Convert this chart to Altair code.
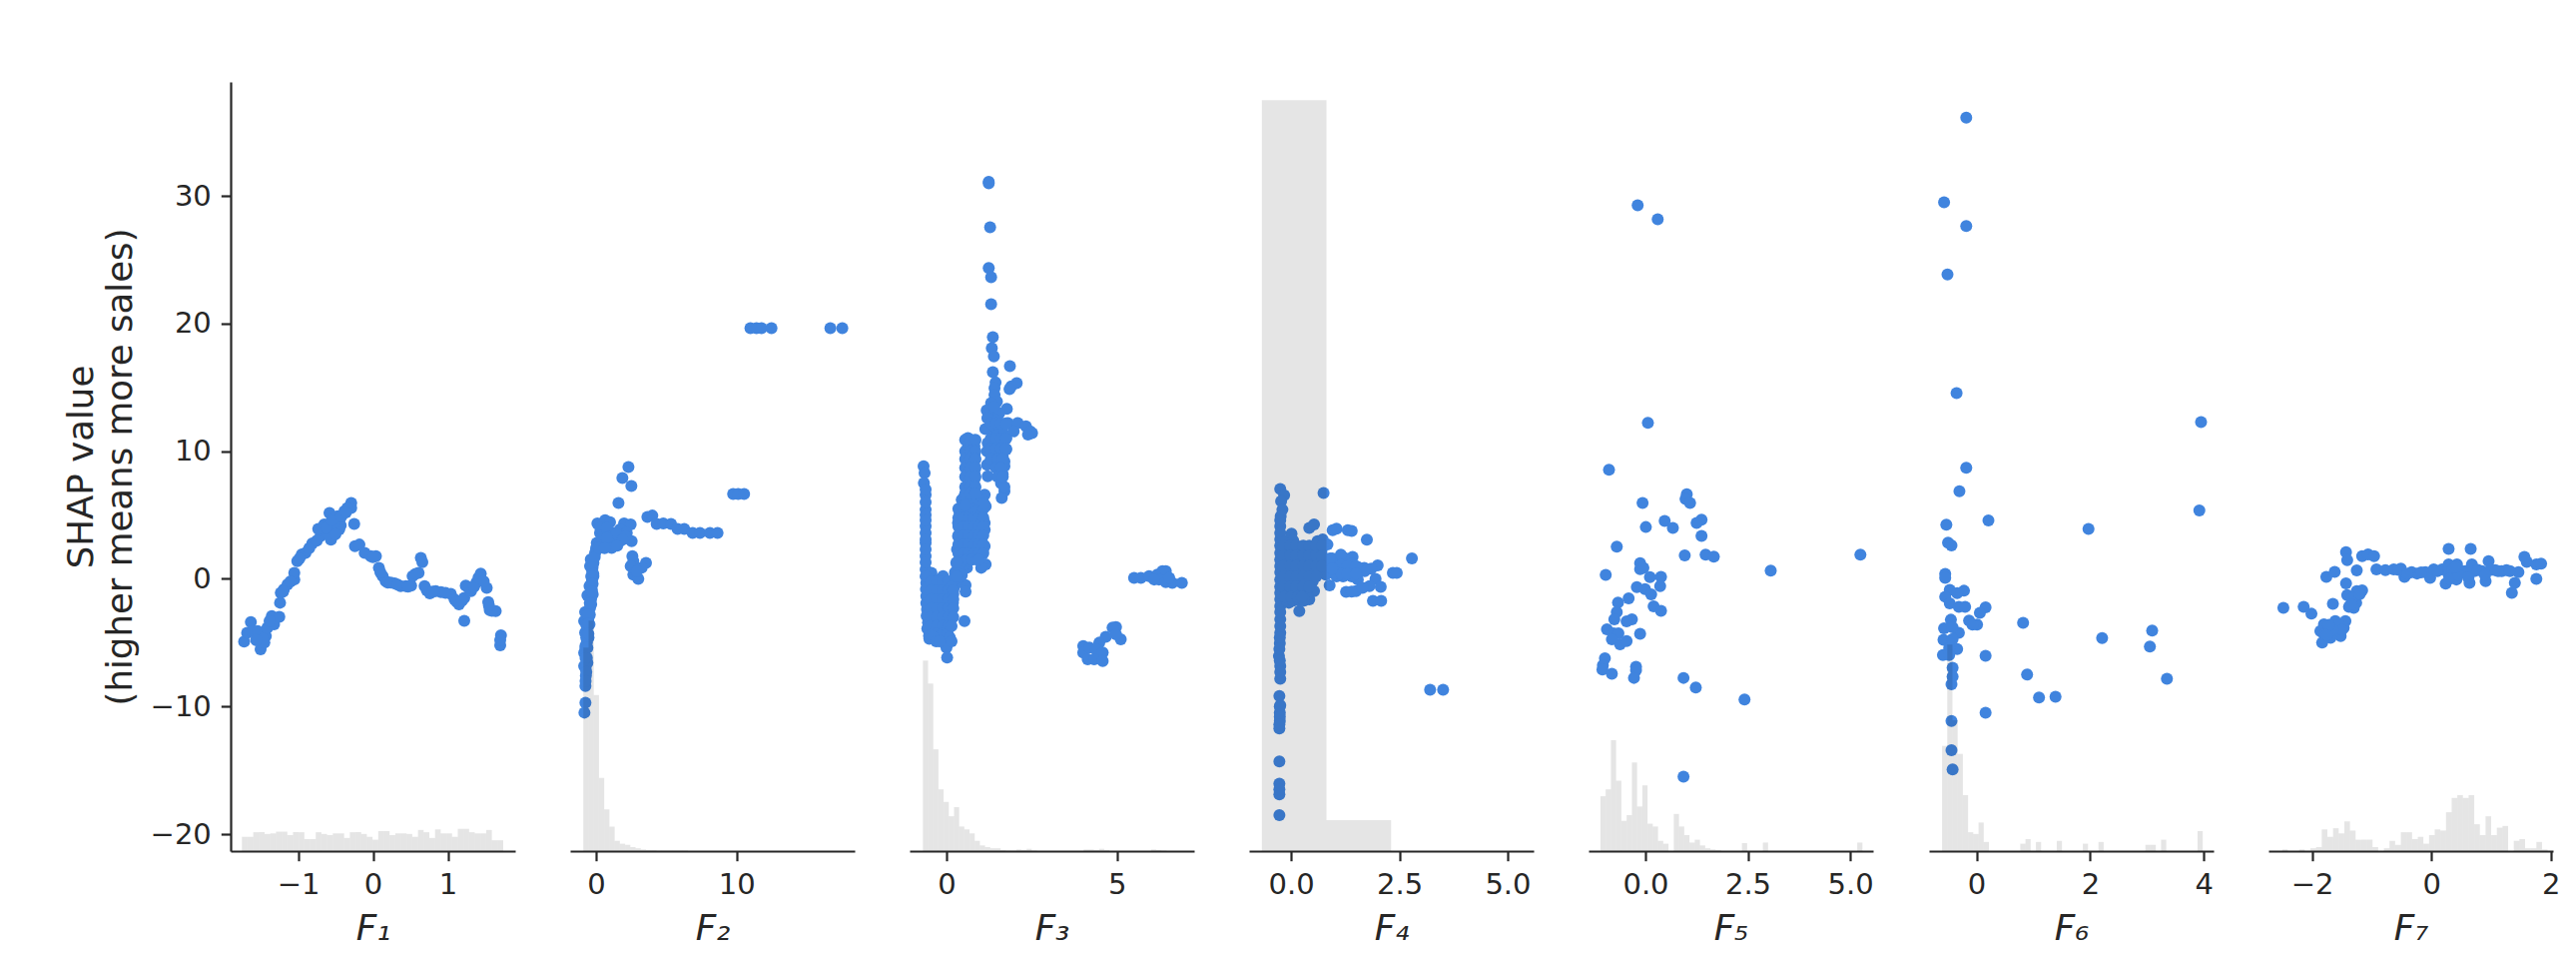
import altair as alt
import pandas as pd

BLUE = "#4084de"
INK = "#262626"

F1_x = [-1.72,-1.68,-1.63,-1.61,-1.54,-1.50,-1.45,-1.43,-1.41,-1.35,-1.32,-1.25,-1.24,-1.23,-1.19,-1.14,-1.05,-1.05,-1.01,-0.95,-0.90,-0.81,-0.70,-0.73,-0.65,-0.58,-0.56,-0.56,-0.47,-0.43,-0.45,-0.52,-0.47,-0.38,-0.29,-0.29,-0.34,-0.25,-0.24,-0.18,-0.11,-0.03,0.04,0.08,0.13,0.17,0.29,0.37,0.44,0.51,0.53,0.61,0.64,0.66,0.69,0.76,0.84,0.91,1.04,1.09,1.15,1.22,1.22,1.24,1.31,1.38,1.44,1.52,1.54,1.56,1.64,1.71,1.70,
        -1.47,-1.56,-1.38,-1.20,-1.10,-0.98,-0.85,-0.75,-0.60,-0.62,-0.55,-0.42,-0.36,-0.50,0.00,0.10,0.20,0.24,0.33,0.47,0.57,0.72,0.80,0.97,1.12,1.19,1.28,1.35,1.41,1.48,1.59,1.55,1.70]
F1_y = [-4.92,-4.22,-3.39,-4.09,-4.09,-5.52,-5.0,-4.48,-3.83,-2.92,-3.57,-2.97,-1.87,-1.09,-0.83,-0.44,-0.05,0.47,1.39,1.91,2.04,2.77,3.34,3.92,4.26,5.17,4.0,3.08,4.0,4.18,3.87,4.39,4.91,5.3,5.95,5.56,5.56,4.31,2.56,2.69,2.04,1.78,1.78,0.87,0.21,-0.18,-0.36,-0.57,-0.57,-0.52,0.21,0.47,1.65,1.31,-0.57,-1.14,-0.96,-1.03,-1.17,-1.61,-2.0,-1.48,-3.28,-0.52,-0.96,-0.31,0.42,-0.70,-1.82,-2.45,-2.52,-4.43,-5.21,
        -4.7,-4.8,-3.3,-1.0,-0.2,1.6,2.4,3.0,3.5,4.0,4.6,4.9,5.2,3.5,1.7,0.5,-0.3,-0.3,-0.45,-0.6,0.4,-0.9,-1.0,-1.1,-1.8,-1.7,-0.7,-0.6,0.1,-0.2,-2.5,-2.1,-4.8]

F2_x = [10.98,11.41,11.77,12.48,16.67,17.52,9.75,10.11,10.53,2.30,1.87,2.51,1.59,3.65,4.0,4.31,4.78,5.33,5.80,6.27,6.87,7.39,8.10,8.64,0.09,0.64,0.99,1.99,2.46,0.52,1.23,1.70,2.18,2.53,1.11,1.70,0.05,0.52,0.99,0.28,0.76,2.06,1.35,2.58,2.65,2.46,3.55,3.24,2.65,3.0,2.89,-0.07,-0.19,-0.28,-0.28,-0.31,-0.62,-0.36,-0.43,-0.78,-0.85,-0.54,-0.78,-0.66,-0.85,-0.66,-0.85,-0.73,-0.76,-0.76,-0.83,-0.43,-0.38,-0.19,-0.47,-0.24,-0.47,-0.54,-0.76,-0.62,
        0.0,-0.1,-0.25,-0.2,-0.35,-0.35,-0.25,-0.3,-0.35,-0.45,-0.45,-0.6,-0.7,-0.55,-0.7,-0.55,-0.75,-0.62,-0.75,-0.75,-0.7,-0.75,0.3,0.75,1.0,1.45,0.4,0.75,1.9,0.2,0.6,1.5]
F2_y = [19.65,19.65,19.65,19.65,19.65,19.65,6.66,6.66,6.66,8.77,7.91,7.28,5.95,4.86,4.96,4.31,4.34,4.31,3.92,3.92,3.6,3.6,3.6,3.6,4.34,4.6,4.44,4.34,4.26,3.87,3.6,3.87,3.6,2.95,2.43,2.95,2.82,3.08,2.95,3.6,2.69,3.34,3.21,1.78,1.39,1.0,1.26,0.87,0.34,0.0,0.6,2.04,1.26,0.6,-0.05,-0.83,-1.3,-1.61,-2.26,-2.6,-3.3,-3.05,-4.2,-5.0,-5.8,-6.18,-6.83,-7.6,-8.4,-9.7,-10.48,0.99,1.52,0.21,-0.57,-1.22,-3.57,-4.6,-5.26,-6.57,
        2.4,1.7,0.9,0.4,0.2,-0.4,-0.4,-1.0,-2.0,-1.9,-2.8,-2.8,-3.6,-3.5,-4.6,-4.3,-5.4,-5.4,-6.2,-7.0,-7.3,-8.0,4.0,4.0,3.3,3.5,3.2,3.2,3.1,2.4,2.4,2.6]

F3_x = [1.24,1.24,1.28,1.24,1.31,1.31,1.36,1.33,1.39,1.36,1.86,2.06,1.90,1.85,1.44,1.41,1.41,1.48,1.31,1.77,1.18,1.41,1.14,1.46,1.80,2.09,2.33,2.45,2.51,2.39,1.97,1.60,1.41,1.75,1.21,1.19,1.19,1.21,1.75,1.56,1.51,1.51,1.70,1.60,1.70,1.62,1.65,
        0.63,0.82,0.63,0.82,0.63,0.82,0.63,0.82,0.53,0.73,1.12,1.15,0.87,0.39,0.34,0.58,0.87,1.12,0.34,0.58,0.87,1.12,1.12,1.07,0.87,0.58,0.31,0.29,0.53,0.73,0.60,1.15,1.02,0.39,0.24,0.19,0.56,0.56,0.53,
        5.50,5.70,5.94,6.18,6.33,6.43,6.23,6.43,6.62,6.90,6.09,6.53,4.97,4.87,5.11,4.97,4.67,4.48,4.01,4.01,4.19,4.38,4.58,4.14,4.33,4.58,
        -0.67,-0.64,-0.66,-0.61,-0.61,-0.61,-0.61,-0.61,-0.61,-0.59,-0.59,-0.57,-0.54,-0.51,-0.44,-0.25,-0.10,-0.35,-0.10,0.09,0.19,-0.35,-0.10,0.09,-0.35,-0.10,0.09,-0.15,0.05,0.0,0.02,
        -0.61,-0.61,-0.61,-0.61,-0.61,-0.61,-0.61,-0.61,-0.61,-0.60,-0.59,-0.58,-0.56,
        -0.45,-0.28,-0.11,0.06,-0.45,-0.28,-0.11,0.06,-0.45,-0.28,-0.11,0.06,-0.45,-0.28,-0.11,0.06,-0.45,-0.28,-0.11,0.06,-0.45,-0.28,-0.11,0.06,-0.40,-0.28,-0.11,0.04,
        0.35,0.50,0.65,0.80,0.95,1.08,0.35,0.50,0.65,0.80,0.95,1.08,0.35,0.50,0.65,0.80,0.95,1.08,0.35,0.50,0.65,0.80,0.95,1.08,0.35,0.50,0.65,0.80,0.95,1.08,0.35,0.50,0.65,0.80,0.95,1.08,
        0.63,0.73,0.82,0.63,0.73,0.82,0.63,0.73,0.82,0.63,0.73,0.82,0.63,0.73,0.82,
        0.30,0.30,0.40,0.20,0.50,0.26,0.15,
        1.40,1.50,1.60,1.70,1.45,1.65,1.55,1.70,1.55,1.65,1.60,1.70,1.55,1.40,1.40,1.65,
        0.25,0.35,0.45,0.60,0.75,0.90,0.30,0.45,1.05,0.95,1.10,0.45,0.55,0.95,
        0.55,0.70,0.85,0.55,0.70,0.85,0.55,0.70,0.85,0.55,0.70,0.85,0.55,0.70,0.85,0.55,0.70,0.85,0.55,0.70,0.85,
        1.20,1.30,1.45,1.60,1.75,1.30,1.45,1.60,1.75,1.30,1.45,1.60,1.75,1.30,1.50,1.65,1.45,1.60,1.50,1.65,
        0.20,0.20,0.20,0.20,0.15,0.25,0.30,0.10,0.15,-0.50,-0.40,-0.30,-0.20]
F3_y = [31.12,30.99,27.55,24.37,23.64,21.53,18.94,18.08,17.43,16.2,16.67,15.34,15.08,14.87,15.39,14.95,14.43,13.9,13.78,13.33,13.2,12.99,11.74,12.47,12.21,12.21,11.95,11.56,11.43,11.3,11.56,11.69,11.69,11.04,10.65,10.0,8.95,8.04,10.13,10.65,9.86,9.08,8.82,7.91,6.87,6.34,9.6,
        11.04,10.86,9.86,9.73,8.82,8.82,7.78,7.78,6.47,6.73,6.6,5.69,5.69,5.17,4.39,4.65,4.65,4.39,3.34,3.6,3.6,3.86,2.56,2.17,2.56,2.56,2.3,1.26,1.52,2.3,0.87,1.13,0.87,0.21,-0.57,-1.88,-0.49,-1.0,-3.31,
        0.08,0.08,0.21,0.34,0.6,0.6,-0.05,-0.25,-0.31,-0.31,-0.05,0.08,-3.77,-3.82,-4.74,-4.35,-4.54,-5.0,-5.26,-5.78,-5.39,-5.52,-5.78,-6.3,-6.3,-6.44,
        8.82,8.3,7.52,6.6,5.43,4.13,2.82,1.78,0.74,-0.31,-1.35,-2.39,-3.43,-4.47,0.47,-0.05,0.21,-1.09,-1.09,-0.83,-0.31,-2.39,-2.39,-2.13,-3.69,-3.69,-3.17,-4.35,-4.61,-5.39,-6.17,
        7.0,6.0,5.0,4.6,3.6,3.1,2.3,1.3,0.2,-0.8,-1.9,-2.9,-3.9,
        -0.2,-0.2,-0.2,-0.2,-0.9,-0.9,-0.9,-0.9,-1.6,-1.6,-1.6,-1.6,-2.3,-2.3,-2.3,-2.3,-3.0,-3.0,-3.0,-3.0,-3.7,-3.7,-3.7,-3.7,-4.3,-4.3,-4.3,-4.3,
        5.5,5.5,5.5,5.5,5.5,5.5,4.8,4.8,4.8,4.8,4.8,4.8,4.1,4.1,4.1,4.1,4.1,4.1,3.4,3.4,3.4,3.4,3.4,3.4,2.7,2.7,2.7,2.7,2.7,2.7,2.0,2.0,2.0,2.0,2.0,2.0,
        10.4,10.4,10.4,9.3,9.3,9.3,8.3,8.3,8.3,7.3,7.3,7.3,6.3,6.3,6.3,
        0.6,-0.2,0.5,-1.2,1.0,0.0,-0.6,
        12.0,11.3,10.8,11.3,10.2,10.0,9.4,9.2,8.5,8.2,7.5,7.2,13.0,13.5,12.5,11.9,
        0.5,0.9,1.4,1.5,1.5,1.5,1.3,0.3,6.2,6.2,5.9,6.2,5.8,1.5,
        10.9,10.9,10.9,10.0,10.0,10.0,9.4,9.4,9.4,8.7,8.7,8.7,8.0,8.0,8.0,7.2,7.2,7.2,6.7,6.7,6.7,
        12.6,12.2,12.2,12.2,12.2,11.0,11.0,11.0,11.0,10.2,10.2,10.2,10.2,9.4,9.4,9.4,8.7,8.7,8.0,8.0,
        -0.9,-1.6,-2.3,-3.0,-3.7,0.2,0.2,-4.6,-4.9,-4.7,-4.5,-4.9,-4.9]

F4_x = [-0.25,-0.16,-0.23,-0.20,-0.24,-0.25,-0.25,-0.25,-0.25,-0.25,-0.25,-0.25,-0.25,-0.25,-0.26,-0.28,-0.25,-0.25,-0.27,-0.25,-0.26,-0.26,-0.27,-0.27,-0.27,-0.27,-0.27,
        0.01,-0.01,0.03,0.19,0.26,0.03,0.34,0.53,0.42,0.19,-0.05,0.19,0.75,0.42,0.53,0.36,0.61,0.73,0.84,0.57,0.69,0.49,0.80,0.89,0.96,1.05,1.31,1.40,1.75,2.79,2.0,2.35,2.44,1.95,2.07,1.69,1.42,1.23,1.04,1.27,1.0,1.50,1.54,1.81,1.50,1.27,1.89,2.08,1.35,3.21,3.51,
        -0.25,-0.25,-0.25,-0.25,-0.25,-0.25,-0.25,-0.25,-0.25,-0.26,-0.27,-0.26,-0.25,-0.26,-0.26,-0.27,-0.27,
        -0.10,0.05,-0.10,0.05,0.20,0.40,0.55,0.70,-0.10,0.05,0.20,0.35,0.50,0.65,0.80,-0.10,0.05,0.20,0.35,0.50,0.65,0.80,1.00,-0.10,0.05,0.20,0.35,0.50,-0.10,0.05,0.20,0.35,-0.10,0.05,0.20,0.30,
        1.10,1.25,1.40,1.55,1.70,1.10,1.20,1.40,1.05,1.30,1.45,0.95,1.85,1.65,1.40,1.15,
        -0.18,-0.02,0.12,0.28,0.42,0.58,0.72,-0.18,-0.02,0.12,0.28,0.42,0.58,0.72,-0.18,-0.02,0.12,0.28,0.42,0.58,0.72,-0.18,-0.02,0.12,0.28,0.42,0.58,-0.18,-0.02,0.12,0.28,0.42,-0.15,0.0,0.15,0.25,
        1.00,1.15,1.30,1.50,1.00,1.15,1.30,1.50,0.90,0.95]
F4_y = [7.05,6.55,6.08,5.43,4.91,4.13,3.09,2.04,1.0,-0.05,-1.09,-2.13,-3.17,-4.22,-5.05,-6.05,-6.83,-7.82,-9.18,-9.9,-10.48,-11.13,-11.73,-14.31,-16.04,-16.88,-18.52,
        3.55,2.82,2.04,1.52,0.74,-0.05,-0.3,-0.96,-1.61,-2.53,-1.87,-1.09,6.73,3.99,4.26,2.43,2.95,3.09,2.69,1.77,1.0,0.47,0.34,-0.51,3.81,3.94,3.81,3.76,3.08,1.6,1.05,0.47,0.47,0.0,-0.62,0.87,1.73,1.65,1.52,1.0,0.73,0.47,-0.05,-0.57,-0.96,-1.01,-1.72,-1.72,0.47,-8.68,-8.68,
        4.6,3.6,2.6,1.5,0.5,-0.6,-1.6,-2.6,-3.7,-4.6,-5.5,-6.4,-7.3,-10.0,-10.8,-11.4,-16.5,
        3.0,3.0,2.2,2.2,2.2,2.2,2.2,2.2,1.4,1.4,1.4,1.4,1.4,1.4,1.4,0.6,0.6,0.6,0.6,0.6,0.6,0.6,0.6,-0.2,-0.2,-0.2,-0.2,-0.2,-1.0,-1.0,-1.0,-1.0,-1.7,-1.7,-1.7,-1.7,
        1.2,1.3,1.2,0.9,0.6,0.6,0.2,0.2,0.2,0.7,0.6,1.6,0.8,-0.7,-1.0,1.9,
        2.6,2.6,2.6,2.6,2.6,2.6,2.6,1.8,1.8,1.8,1.8,1.8,1.8,1.8,1.0,1.0,1.0,1.0,1.0,1.0,1.0,0.2,0.2,0.2,0.2,0.2,0.2,-0.6,-0.6,-0.6,-0.6,-0.6,-1.4,-1.4,-1.4,-1.4,
        1.0,1.1,1.0,1.0,0.4,0.4,0.4,0.4,1.6,0.8]

F5_x = [-0.19,0.30,0.06,-0.89,-0.07,1.01,0.98,1.09,0.47,0.67,0.01,1.37,1.25,1.37,-0.70,0.96,1.47,1.67,5.25,3.06,-0.97,-0.13,-0.13,-0.05,0.11,0.38,0.36,-0.21,-0.01,0.14,0.20,0.38,-0.41,-0.67,-0.70,-0.33,-0.46,-0.76,-0.94,-0.78,-0.66,-0.62,-0.46,-0.13,-0.82,-0.99,-1.04,-1.05,-0.82,-0.23,-0.23,-0.28,0.93,1.23,2.42,0.93]
F5_y = [29.27,28.17,12.23,8.55,5.95,6.64,6.26,5.95,4.53,4.0,4.06,4.63,4.38,3.37,2.52,1.83,1.89,1.74,1.89,0.64,0.32,1.23,0.76,0.86,0.13,0.16,-0.56,-0.65,-0.81,-1.22,-2.16,-2.51,-1.53,-1.85,-2.6,-3.17,-3.33,-3.17,-3.95,-4.27,-4.27,-5.12,-4.87,-4.3,-4.74,-6.22,-6.78,-7.1,-7.44,-6.88,-7.16,-7.76,-7.76,-8.51,-9.46,-15.49]

F6_x = [-0.18,-0.57,-0.18,-0.51,-0.35,3.95,-0.18,-0.30,-0.53,0.21,1.97,3.92,-0.50,-0.44,-0.55,-0.55,-0.47,-0.55,-0.22,-0.34,-0.47,-0.31,-0.20,0.16,0.06,-0.13,0.01,-0.07,0.82,-0.45,-0.57,-0.31,-0.42,-0.58,-0.34,-0.48,-0.42,-0.59,-0.48,0.16,2.21,3.09,3.05,3.35,0.89,1.10,1.39,0.16,-0.42,-0.42,-0.44,-0.44,-0.44,-0.42]
F6_y = [36.15,29.5,27.64,23.86,14.56,12.29,8.7,6.87,4.24,4.57,3.92,5.36,2.84,2.63,0.4,0.08,-0.86,-1.4,-0.93,-1.11,-1.91,-2.19,-2.19,-2.23,-2.66,-3.27,-3.59,-3.59,-3.45,-3.2,-3.88,-4.23,-3.8,-4.78,-5.5,-5.43,-4.71,-5.96,-5.96,-6.03,-4.63,-4.06,-5.31,-7.83,-7.5,-9.3,-9.23,-10.49,-6.97,-7.65,-8.26,-11.13,-13.43,-14.93]

F7_x = [-2.48,-2.14,-2.01,-1.65,-1.76,-1.62,-1.43,-1.41,-1.25,-1.16,-1.06,-0.96,-0.92,-1.43,-1.41,-1.25,-1.16,-1.26,-1.38,-1.30,-1.80,-1.86,-1.61,-1.44,-1.47,-1.52,-1.69,-1.83,-1.61,-1.80,-0.77,-0.63,-0.51,-0.45,-0.33,-0.24,-0.10,-0.02,0.04,0.18,0.24,0.29,0.29,0.43,0.42,0.66,0.68,0.64,0.57,0.29,0.85,0.91,0.96,1.07,1.18,1.26,1.46,1.40,1.35,1.56,1.60,1.76,1.84,1.76,
        -0.55,-0.40,-0.17,0.10,0.35,0.50,0.72,0.78,1.00,1.12,1.32,0.30,0.45,0.62,0.90,0.40,-1.70,-1.55,-1.50,-1.65,-1.72,-1.75,-1.33,-1.35,-1.20]
F7_y = [-2.27,-2.19,-2.73,-1.95,0.16,0.55,2.09,1.47,0.66,1.78,1.91,1.78,0.74,-0.36,-1.27,-0.96,-0.91,-1.87,-2.19,-2.27,-3.57,-4.09,-3.31,-3.31,-3.83,-4.48,-4.61,-5.0,-3.83,-4.35,0.68,0.74,0.81,0.16,0.52,0.42,0.52,0.08,0.74,0.74,-0.38,1.13,2.35,1.13,-0.05,2.35,1.13,-0.31,0.61,0.35,0.61,-0.18,1.39,0.68,0.61,0.68,0.52,-0.31,-1.09,1.73,1.33,1.13,1.2,0.0,
        0.7,0.4,0.5,0.6,0.7,0.6,0.6,0.7,0.7,0.6,0.6,0.0,0.3,0.1,0.3,0.9,-4.1,-3.6,-4.0,-4.0,-3.6,-4.4,-1.5,-2.0,-1.2]

# histogram bar heights (relative counts) and the range of their bins
F1_hist = [25,25,33,33,30,31,34,34,28,33,33,21,21,33,30,28,31,31,23,33,33,30,25,20,35,35,28,31,31,30,25,37,33,23,38,31,31,25,39,39,33,31,31,37,19,19]
F2_hist = [356,403,273,128,73,43,18,13,11,7,5,3,2,2,1,1,1,1,1,1]
F3_hist = [333,293,178,108,86,61,77,43,38,31,18,10,7,5,5,2,1,1,3,2,4,1,0,0,0,0,0,0,0,0,0,3,3,2,4,2,0,0,0,0,0,0,0,0,3,2,1]
F4_hist = [1313,54]
F5_hist = [96,108,194,123,53,63,155,78,115,48,43,18,13,0,65,43,28,15,20,10,5,3,2,0,0,0,0,14,0,0,0,15,0,0,0,0,0,0,0,0,0,0,0,0,0,0,0,0,0,15]
F6_hist = [184,361,229,170,98,33,30,50,16,0,0,0,0,0,0,13,21,0,16,0,0,0,18,0,0,0,0,13,0,0,16,0,0,0,0,0,0,0,0,11,11,0,20,0,0,0,0,0,0,35]
F7_hist = [3,0,0,3,0,5,7,38,25,40,31,52,36,20,20,20,7,0,5,18,11,33,33,21,25,13,28,38,36,68,93,98,93,98,47,28,61,28,41,44,0,18,21,5,5,16,3]
HIST_TOP = 1345

PANELS = [
    ("F₁", F1_x, F1_y, F1_hist, (-1.75, 1.74), (-1.90, 1.90), [-1, 0, 1], "d"),
    ("F₂", F2_x, F2_y, F2_hist, (-0.91, 6.53), (-1.85, 18.4), [0, 10], "d"),
    ("F₃", F3_x, F3_y, F3_hist, (-0.69, 6.45), (-1.08, 7.26), [0, 5], "d"),
    ("F₄", F4_x, F4_y, F4_hist, (-0.675, 2.31), (-0.97, 5.6), [0, 2.5, 5], ".1f"),
    ("F₅", F5_x, F5_y, F5_hist, (-1.10, 5.30), (-1.39, 5.56), [0, 2.5, 5], ".1f"),
    ("F₆", F6_x, F6_y, F6_hist, (-0.606, 3.98), (-0.835, 4.17), [0, 2, 4], "d"),
    ("F₇", F7_x, F7_y, F7_hist, (-2.50, 1.95), (-2.73, 2.04), [-2, 0, 2], "d"),
]
Y_DOMAIN = [-21.33, 38.94]
Y_TICKS = [-20, -10, 0, 10, 20, 30]


def panel(i, name, xs, ys, hist, bins, domain, ticks, fmt):
    step = (bins[1] - bins[0]) / len(hist)
    bars = pd.DataFrame(
        [{"lo": bins[0] + k * step, "hi": bins[0] + (k + 1) * step, "h": h}
         for k, h in enumerate(hist) if h > 0]
    )
    pts = pd.DataFrame({"x": xs, "y": ys})
    xscale = alt.Scale(domain=list(domain), nice=False, zero=False)
    xaxis = alt.Axis(values=ticks, format=fmt, title=name, grid=False,
                     titleFontStyle="italic", titleFontWeight="normal",
                     labelFlush=False)
    if i == 0:
        yaxis = alt.Axis(values=Y_TICKS, grid=False,
                         title=["SHAP value", "(higher means more sales)"],
                         titleFontWeight="normal", titleLineHeight=39)
    else:
        yaxis = None
    dots = alt.Chart(pts).mark_circle(color=BLUE, opacity=1, size=144).encode(
        x=alt.X("x:Q", scale=xscale, axis=xaxis),
        y=alt.Y("y:Q", scale=alt.Scale(domain=Y_DOMAIN, nice=False, zero=False), axis=yaxis),
    )
    rects = alt.Chart(bars).mark_rect(color="#000000", opacity=0.1).encode(
        x=alt.X("lo:Q", scale=xscale, axis=xaxis),
        x2="hi:Q",
        y=alt.Y("h:Q", scale=alt.Scale(domain=[0, HIST_TOP], nice=False), axis=None),
        y2=alt.datum(0),
    )
    return alt.layer(dots, rects).resolve_scale(y="independent").properties(width=285, height=770)


charts = [panel(i, *p) for i, p in enumerate(PANELS)]
chart = (
    alt.hconcat(*charts, spacing=55)
    .properties(padding={"left": 56, "top": 74, "right": 5, "bottom": 5}, background="white")
    .configure_view(stroke=None)
    .configure_axis(
        domainColor=INK, domainWidth=2.2, tickColor=INK, tickWidth=2.2, tickSize=9.7,
        labelColor=INK, labelFontSize=29, labelFont="DejaVu Sans", labelPadding=10,
        titleColor=INK, titleFontSize=35.6, titleFont="DejaVu Sans", titlePadding=12,
    )
)
chart.save("out.html", embed_options={"renderer": "svg", "actions": False})
